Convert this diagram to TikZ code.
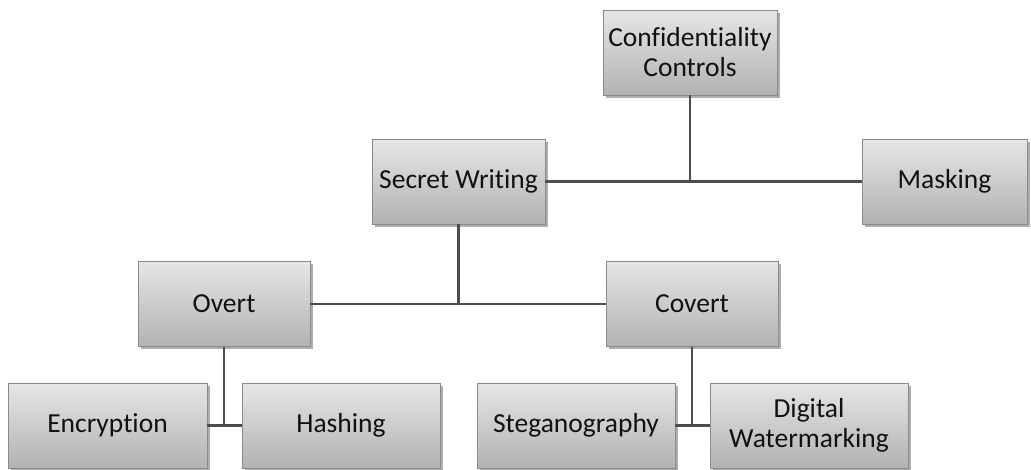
\documentclass[tikz,border=0pt]{standalone}
\usepackage{fontspec}
\setmainfont[Ligatures={NoCommon}]{Carlito}
\usetikzlibrary{shadows}
\definecolor{boxtop}{HTML}{E6E6E6}
\definecolor{boxbot}{HTML}{B2B2B2}
\definecolor{boxline}{HTML}{8A8A8A}
\definecolor{linkc}{HTML}{4D4D4D}
\definecolor{txt}{HTML}{111111}
\tikzset{
  box/.style={draw=boxline, line width=0.8pt, top color=boxtop, bottom color=boxbot,
    minimum height=85pt, inner sep=2pt, align=center, text=txt,
    font=\fontsize{27.5}{30}\selectfont,
    drop shadow={shadow xshift=2.5pt, shadow yshift=-2.5pt, opacity=0.45, fill=black!70}},
  link/.style={draw=linkc, line width=2.6pt}
}
\begin{document}
\begin{tikzpicture}[x=1pt, y=-1pt]
  \useasboundingbox (0,0) rectangle (1031,469);
  % level 0
  \node[box, minimum width=174pt] (cc) at (690,52.5) {Confidentiality\\Controls};
  % level 1
  \node[box, minimum width=173pt] (sw) at (458.5,181.5) {Secret Writing};
  \node[box, minimum width=165pt] (mask) at (944.5,181.5) {Masking};
  % level 2
  \node[box, minimum width=172pt] (overt) at (224,304) {Overt};
  \node[box, minimum width=172pt] (covert) at (692,304) {Covert};
  % level 3
  \node[box, minimum width=199pt] (enc) at (107.5,425.5) {Encryption};
  \node[box, minimum width=198pt] (hash) at (341,425.5) {Hashing};
  \node[box, minimum width=198pt] (steg) at (576,425.5) {Steganography};
  \node[box, minimum width=198pt] (dw) at (809,425.5) {Digital\\Watermarking};

  % junction points where a drop line meets a sibling bar
  \coordinate (j0) at (cc.south |- sw.east);
  \coordinate (j1) at (sw.south |- overt.east);
  \coordinate (j2) at (overt.south |- enc.east);
  \coordinate (j3) at (covert.south |- steg.east);

  % connectors
  \draw[link] (sw.east) -- (mask.west);
  \draw[link] (cc.south) -- (j0);
  \draw[link] (overt.east) -- (covert.west);
  \draw[link] (sw.south) -- (j1);
  \draw[link] (enc.east) -- (hash.west);
  \draw[link] (overt.south) -- (j2);
  \draw[link] (steg.east) -- (dw.west);
  \draw[link] (covert.south) -- (j3);
\end{tikzpicture}
\end{document}
